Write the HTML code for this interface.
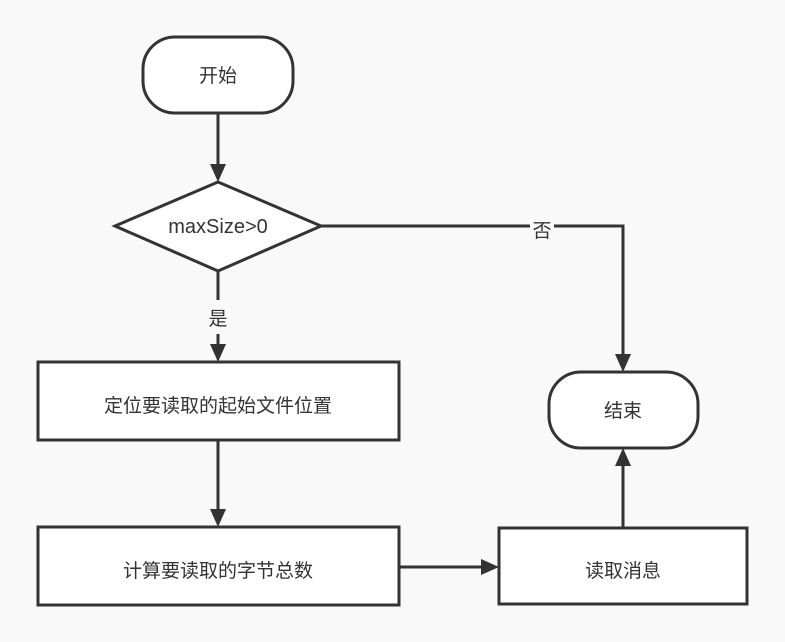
<!DOCTYPE html>
<html><head><meta charset="utf-8"><style>
html,body{margin:0;padding:0;background:#f9f9f9;}
svg{display:block;}
text{font-family:"Liberation Sans","Noto Sans CJK SC",sans-serif;font-size:19px;fill:#333;}
</style></head><body>
<svg width="785" height="642" viewBox="0 0 785 642">
<g stroke="#333" stroke-width="3" fill="#fff">
<rect x="143" y="37" width="150" height="76" rx="32"/>
<polygon points="115,226 218,182 321,226 218,271"/>
<rect x="38" y="362" width="361" height="78"/>
<rect x="38" y="527" width="361" height="78"/>
<rect x="499" y="528" width="248" height="76"/>
<rect x="549" y="372" width="149" height="76" rx="32"/>
</g>
<g stroke="#333" stroke-width="3" fill="none">
<line x1="218" y1="113" x2="218" y2="166"/>
<line x1="218" y1="271" x2="218" y2="300"/>
<line x1="218" y1="334" x2="218" y2="346"/>
<line x1="218" y1="440" x2="218" y2="510"/>
<line x1="399" y1="567" x2="482" y2="567"/>
<line x1="623" y1="528" x2="623" y2="464"/>
<polyline points="321,226 623,226 623,356"/>
</g>
<g fill="#333">
<path d="M210,164 L226,164 L218,182 Z"/>
<path d="M210,344 L226,344 L218,362 Z"/>
<path d="M210,509 L226,509 L218,527 Z"/>
<path d="M481,559 L481,575 L499,567 Z"/>
<path d="M615,354 L631,354 L623,372 Z"/>
<path d="M615,466 L631,466 L623,448 Z"/>
</g>
<rect x="530" y="218" width="24" height="22" fill="#f9f9f9"/>
<text x="218" y="82" text-anchor="middle">开始</text>
<text x="218" y="233" text-anchor="middle" style="font-size:20px">maxSize&gt;0</text>
<text x="218" y="325" text-anchor="middle">是</text>
<text x="542" y="237" text-anchor="middle">否</text>
<text x="218" y="412" text-anchor="middle">定位要读取的起始文件位置</text>
<text x="218" y="577" text-anchor="middle">计算要读取的字节总数</text>
<text x="623" y="577" text-anchor="middle">读取消息</text>
<text x="623" y="417" text-anchor="middle">结束</text>
</svg>
</body></html>
